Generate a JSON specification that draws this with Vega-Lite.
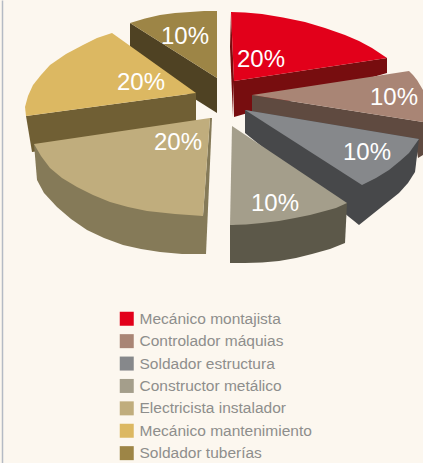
{
"$schema":"https://vega.github.io/schema/vega-lite/v6.json",
"autosize":{"type":"fit","contains":"padding"},"width":423,"height":463,"padding":0,
"background":"#fcf7ef",
"view":{"stroke":null},
"config":{"font":"Liberation Sans"},
"datasets":{
"lados":[
{"o":"Mecánico montajista","p":"a","x":231,"y":12},{"o":"Mecánico montajista","p":"a","x":230,"y":47},{"o":"Mecánico montajista","p":"a","x":233,"y":117},{"o":"Mecánico montajista","p":"a","x":234,"y":81},
{"o":"Mecánico montajista","p":"b","x":234,"y":81},{"o":"Mecánico montajista","p":"b","x":387,"y":58},{"o":"Mecánico montajista","p":"b","x":387,"y":73},{"o":"Mecánico montajista","p":"b","x":234,"y":117},
{"o":"Controlador máquias","p":"a","x":252,"y":95},{"o":"Controlador máquias","p":"a","x":423,"y":122},{"o":"Controlador máquias","p":"a","x":423,"y":155},{"o":"Controlador máquias","p":"a","x":418,"y":158},{"o":"Controlador máquias","p":"a","x":416,"y":145},{"o":"Controlador máquias","p":"a","x":252,"y":125},
{"o":"Soldador estructura","p":"a","x":245,"y":110},{"o":"Soldador estructura","p":"a","x":419,"y":139},{"o":"Soldador estructura","p":"a","x":415,"y":172},{"o":"Soldador estructura","p":"a","x":408,"y":183},{"o":"Soldador estructura","p":"a","x":399,"y":193},{"o":"Soldador estructura","p":"a","x":389,"y":201},{"o":"Soldador estructura","p":"a","x":379,"y":209},{"o":"Soldador estructura","p":"a","x":369,"y":217},{"o":"Soldador estructura","p":"a","x":359,"y":225},{"o":"Soldador estructura","p":"a","x":245,"y":133},
{"o":"Constructor metálico","p":"a","x":230,"y":225},{"o":"Constructor metálico","p":"a","x":347,"y":203},{"o":"Constructor metálico","p":"a","x":345,"y":243},{"o":"Constructor metálico","p":"a","x":330,"y":249},{"o":"Constructor metálico","p":"a","x":312,"y":254},{"o":"Constructor metálico","p":"a","x":296,"y":258},{"o":"Constructor metálico","p":"a","x":279,"y":261},{"o":"Constructor metálico","p":"a","x":262,"y":262.5},{"o":"Constructor metálico","p":"a","x":245,"y":263},{"o":"Constructor metálico","p":"a","x":230,"y":263},
{"o":"Soldador tuberías","p":"a","x":130,"y":23},{"o":"Soldador tuberías","p":"a","x":217,"y":78},{"o":"Soldador tuberías","p":"a","x":217,"y":113},{"o":"Soldador tuberías","p":"a","x":130,"y":58},
{"o":"Mecánico mantenimiento","p":"a","x":26,"y":116},{"o":"Mecánico mantenimiento","p":"a","x":196,"y":93},{"o":"Mecánico mantenimiento","p":"a","x":196,"y":129},{"o":"Mecánico mantenimiento","p":"a","x":32,"y":152},
{"o":"Electricista instalador","p":"a","x":34,"y":144},{"o":"Electricista instalador","p":"a","x":203,"y":216},{"o":"Electricista instalador","p":"a","x":203,"y":254},{"o":"Electricista instalador","p":"a","x":182,"y":254},{"o":"Electricista instalador","p":"a","x":160,"y":252},{"o":"Electricista instalador","p":"a","x":141,"y":249},{"o":"Electricista instalador","p":"a","x":123,"y":245},{"o":"Electricista instalador","p":"a","x":104,"y":238},{"o":"Electricista instalador","p":"a","x":87,"y":230},{"o":"Electricista instalador","p":"a","x":71,"y":219},{"o":"Electricista instalador","p":"a","x":57,"y":207},{"o":"Electricista instalador","p":"a","x":44,"y":193},{"o":"Electricista instalador","p":"a","x":37,"y":180},
{"o":"Electricista instalador","p":"b","x":210,"y":118},{"o":"Electricista instalador","p":"b","x":212,"y":118},{"o":"Electricista instalador","p":"b","x":206,"y":254},{"o":"Electricista instalador","p":"b","x":203,"y":254},{"o":"Electricista instalador","p":"b","x":203,"y":216}
],
"caras":[
{"o":"Mecánico montajista","x":231,"y":12},{"o":"Mecánico montajista","x":245,"y":12.5},{"o":"Mecánico montajista","x":262,"y":14},{"o":"Mecánico montajista","x":283,"y":17.5},{"o":"Mecánico montajista","x":305,"y":22},{"o":"Mecánico montajista","x":325,"y":28},{"o":"Mecánico montajista","x":345,"y":35},{"o":"Mecánico montajista","x":359,"y":41},{"o":"Mecánico montajista","x":372,"y":48},{"o":"Mecánico montajista","x":387,"y":58},{"o":"Mecánico montajista","x":234,"y":81},
{"o":"Controlador máquias","x":252,"y":95},{"o":"Controlador máquias","x":409,"y":71},{"o":"Controlador máquias","x":413,"y":75},{"o":"Controlador máquias","x":417,"y":80},{"o":"Controlador máquias","x":423,"y":90},{"o":"Controlador máquias","x":423,"y":122},
{"o":"Soldador estructura","x":245,"y":110},{"o":"Soldador estructura","x":419,"y":139},{"o":"Soldador estructura","x":409,"y":153},{"o":"Soldador estructura","x":400,"y":161},{"o":"Soldador estructura","x":389,"y":170},{"o":"Soldador estructura","x":376,"y":178},{"o":"Soldador estructura","x":362,"y":185},
{"o":"Constructor metálico","x":232,"y":126},{"o":"Constructor metálico","x":347,"y":203},{"o":"Constructor metálico","x":336,"y":208},{"o":"Constructor metálico","x":325,"y":211},{"o":"Constructor metálico","x":310,"y":215},{"o":"Constructor metálico","x":295,"y":218},{"o":"Constructor metálico","x":279,"y":221},{"o":"Constructor metálico","x":262,"y":223},{"o":"Constructor metálico","x":246,"y":224.5},{"o":"Constructor metálico","x":230,"y":225},
{"o":"Electricista instalador","x":34,"y":144},{"o":"Electricista instalador","x":210,"y":118},{"o":"Electricista instalador","x":203,"y":216},{"o":"Electricista instalador","x":175,"y":214},{"o":"Electricista instalador","x":147,"y":211},{"o":"Electricista instalador","x":128,"y":207},{"o":"Electricista instalador","x":110,"y":202},{"o":"Electricista instalador","x":93,"y":195},{"o":"Electricista instalador","x":77,"y":187},{"o":"Electricista instalador","x":62,"y":178},{"o":"Electricista instalador","x":50,"y":168},{"o":"Electricista instalador","x":41,"y":156},
{"o":"Mecánico mantenimiento","x":112,"y":33},{"o":"Mecánico mantenimiento","x":196,"y":93},{"o":"Mecánico mantenimiento","x":26,"y":116},{"o":"Mecánico mantenimiento","x":25,"y":107},{"o":"Mecánico mantenimiento","x":28,"y":96},{"o":"Mecánico mantenimiento","x":33,"y":85},{"o":"Mecánico mantenimiento","x":41,"y":75},{"o":"Mecánico mantenimiento","x":50,"y":65},{"o":"Mecánico mantenimiento","x":66,"y":54},{"o":"Mecánico mantenimiento","x":83,"y":45},{"o":"Mecánico mantenimiento","x":97,"y":38},
{"o":"Soldador tuberías","x":130,"y":23},{"o":"Soldador tuberías","x":145,"y":18.5},{"o":"Soldador tuberías","x":160,"y":15},{"o":"Soldador tuberías","x":175,"y":13},{"o":"Soldador tuberías","x":190,"y":12},{"o":"Soldador tuberías","x":204,"y":11},{"o":"Soldador tuberías","x":217,"y":11},{"o":"Soldador tuberías","x":217,"y":78}
],
"rotulos":[
{"t":"20%","x":261,"y":60},{"t":"10%","x":394,"y":98},{"t":"10%","x":367,"y":153},{"t":"10%","x":275,"y":204},{"t":"20%","x":178,"y":143},{"t":"20%","x":141,"y":83},{"t":"10%","x":185,"y":37}
]
},
"encoding":{
"x":{"field":"x","type":"quantitative","scale":{"domain":[0,423],"nice":false,"zero":false},"axis":null},
"y":{"field":"y","type":"quantitative","scale":{"domain":[0,463],"nice":false,"zero":false,"reverse":true},"axis":{"orient":"left","offset":-2,"title":null,"labels":false,"ticks":false,"grid":false,"domain":true,"domainColor":"#b4bac4","domainWidth":1.5}}
},
"layer":[
{"data":{"name":"lados"},
"mark":{"type":"line","interpolate":"linear-closed","strokeWidth":0},
"encoding":{
"order":{"field":"n"},
"detail":{"field":"p"},
"fill":{"field":"o","type":"nominal","legend":null,"sort":null,
"scale":{"domain":["Mecánico montajista","Controlador máquias","Soldador estructura","Constructor metálico","Electricista instalador","Mecánico mantenimiento","Soldador tuberías"],"range":["#770d0f","#5f4a40","#47484a","#5c5849","#857a58","#705f34","#4f4223"]}}}},
{"data":{"name":"caras"},
"mark":{"type":"line","interpolate":"linear-closed","strokeWidth":0},
"encoding":{
"order":{"field":"n"},
"fill":{"field":"o","type":"nominal","sort":null,
"scale":{"domain":["Mecánico montajista","Controlador máquias","Soldador estructura","Constructor metálico","Electricista instalador","Mecánico mantenimiento","Soldador tuberías"],"range":["#e2001a","#a98575","#86888b","#a49e8b","#c0ad7d","#dcb862","#9d8546"]},
"legend":{"orient":"none","legendX":119,"legendY":311,"title":null,"padding":0,"symbolType":"square","symbolSize":196,"symbolStrokeWidth":0,"symbolOpacity":1,"labelFont":"Liberation Sans","labelFontSize":15.5,"labelColor":"#8e8e8c","labelOffset":5,"rowPadding":5.4,"labelLimit":220}}}},
{"data":{"name":"rotulos"},
"mark":{"type":"text","font":"Liberation Sans","fontSize":24,"color":"#ffffff","baseline":"middle","align":"center"},
"encoding":{"text":{"field":"t"}}}
],
"resolve":{"scale":{"fill":"independent"}}
}
